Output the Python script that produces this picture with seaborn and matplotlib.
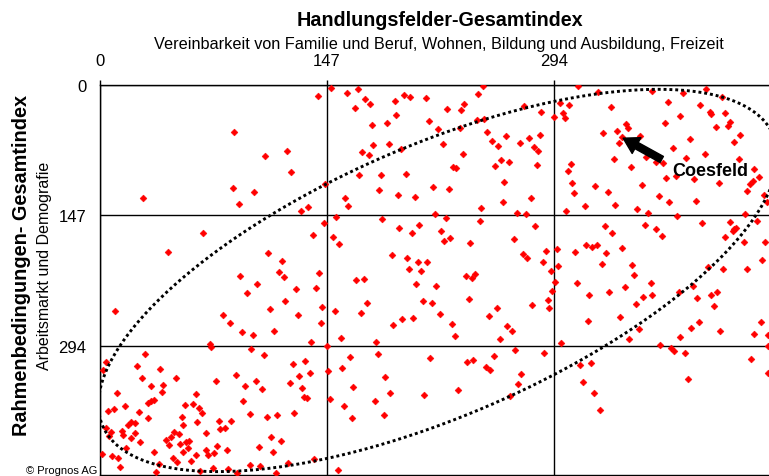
import numpy as np
import seaborn as sns
import matplotlib.pyplot as plt

# Rang im Handlungsfelder-Gesamtindex (x) und Rahmenbedingungen-Gesamtindex (y)
handlung_rang = [
    87, 28, 86, 100, 90, 67, 44, 91,
    141, 150, 160, 167, 172, 175, 165, 191, 197, 201, 211, 192, 186, 176, 213, 219, 225, 234, 236, 245,
    248, 244, 249, 233, 251, 254, 263, 258, 222, 195, 187, 177, 170, 174, 121, 107, 124, 168, 182, 198,
    235, 229, 231, 256, 260, 265, 262, 261, 216, 226, 181, 193, 204, 159, 161, 146, 135, 130, 247, 246,
    217, 224, 183, 153, 145, 194, 207, 221, 223, 227, 240, 202, 138, 151, 155, 109, 118, 116, 119, 142,
    189, 199, 206, 212, 200, 208, 237, 243, 241, 166, 171,
    102, 127, 140, 120, 110, 128, 144, 143, 113, 99, 137, 147, 152, 156, 173, 169, 179, 205, 218, 209,
    215, 220, 203, 196, 190, 228, 230, 239, 257, 252, 264, 259, 106, 125, 133, 129, 136, 101, 105, 123,
    131, 132, 134, 97, 108, 115, 126, 111, 117, 103, 112, 104, 97, 122, 139, 114, 154, 148, 149, 162,
    157, 164, 158, 163, 180, 185, 188, 178, 184, 214, 210, 232, 238, 242, 250, 253, 255,
    95, 10, 80, 84, 92, 71, 72, 98, 29, 4, 2, 24, 39, 27, 49, 88, 75, 33, 41, 94,
    11, 40, 62, 31, 33, 35, 93, 55, 60, 64, 5, 9, 16, 25, 66, 31, 53, 18, 20, 23,
    54, 63, 77, 85, 4, 78, 81, 6, 7, 14, 15, 23, 48, 51, 43, 46, 26, 20, 17, 45,
    52, 56, 58, 57, 69, 76, 82, 69, 70, 74, 62, 54, 35, 1, 8, 12, 47, 50, 59, 38,
    13, 65, 73, 83, 36, 89,
    310, 323, 298, 304, 275, 286, 300, 301, 294, 331, 358, 378, 393, 403, 368, 389, 395, 396, 405, 376,
    366, 399, 408, 407, 341, 342, 335, 326, 336, 350, 382, 415, 411, 371, 392, 380, 414, 354, 360, 365,
    333, 344, 367, 373, 385, 424, 427, 423, 421, 419, 430, 432, 401, 351, 362, 369, 386, 334, 348, 355,
    374, 418, 426, 408, 410, 411, 412, 353, 360, 364, 390, 405, 417, 431, 429, 419, 394, 404, 321, 329,
    314, 302, 307, 306, 305, 303, 279, 270, 276, 283, 281, 284, 278, 285, 272, 282, 268, 274, 277, 289,
    287, 296, 297, 292, 308, 315, 319, 322, 327, 332, 328, 338, 325, 345, 346,
    295, 293, 290, 291, 280, 267, 269, 288, 273, 271, 266, 299, 309, 317, 316, 330, 340, 347, 352, 357,
    358, 337, 349, 343, 311, 318, 313, 320, 324, 363, 370, 372, 379, 381, 376, 383, 388, 375, 384, 387,
    396, 400, 398, 402, 428, 424, 433, 433, 422, 433,
]
rahmen_rang = [
    53, 127, 116, 121, 134, 167, 188, 215,
    12, 3, 9, 5, 16, 21, 26, 18, 11, 14, 15, 34, 43, 45, 41, 50, 27, 28, 21, 10,
    1, 39, 38, 49, 53, 63, 58, 69, 67, 72, 67, 68, 76, 79, 74, 80, 98, 102, 102, 100,
    78, 92, 94, 91, 85, 87, 109, 132, 115, 117, 118, 124, 126, 127, 137, 112, 138, 142, 139, 153,
    146, 150, 151, 149, 156, 161, 158, 165, 176, 173, 178, 167, 169, 171, 179, 189, 199, 211, 217, 212,
    192, 195, 200, 200, 208, 210, 216, 213, 218, 220, 219,
    224, 230, 229, 244, 253, 260, 250, 269, 278, 282, 290, 294, 255, 285, 246, 257, 290, 225, 227, 244,
    246, 258, 263, 264, 271, 270, 283, 241, 252, 261, 272, 287, 305, 315, 311, 328, 325, 334, 343, 336,
    342, 352, 353, 371, 374, 372, 370, 397, 402, 408, 414, 430, 429, 426, 422, 438, 434, 323, 354, 307,
    319, 341, 362, 376, 304, 329, 348, 357, 372, 308, 350, 344, 313, 310, 318, 322, 306,
    235, 255, 259, 268, 279, 292, 296, 298, 303, 312, 321, 317, 320, 330, 330, 327, 334, 340, 338, 339,
    347, 346, 349, 359, 357, 355, 356, 361, 360, 364, 368, 365, 362, 369, 370, 376, 374, 383, 380, 381,
    384, 380, 379, 379, 387, 388, 387, 396, 391, 390, 395, 392, 391, 394, 401, 397, 403, 398, 409, 406,
    405, 403, 402, 410, 393, 407, 412, 412, 417, 415, 417, 414, 414, 416, 419, 421, 421, 425, 424, 427,
    431, 435, 432, 433, 437, 438,
    1, 8, 20, 22, 24, 30, 32, 37, 36, 25, 7, 9, 4, 13, 19, 23, 30, 33, 32, 35,
    43, 47, 42, 46, 44, 48, 52, 54, 65, 57, 61, 56, 64, 71, 78, 82, 84, 81, 87, 88,
    83, 92, 105, 103, 106, 95, 104, 108, 112, 120, 124, 132, 111, 113, 125, 132, 131, 135, 140, 144,
    148, 146, 153, 154, 165, 163, 161, 158, 163, 170, 156, 172, 177, 177, 197, 207, 205, 207, 114, 121,
    136, 142, 122, 110, 89, 97, 128, 144, 146, 90, 70, 75, 60, 56, 65, 159, 174, 191, 195, 187,
    200, 185, 204, 210, 188, 181, 183, 180, 159, 167, 190, 184, 202, 203, 214,
    222, 232, 242, 251, 248, 278, 299, 302, 326, 337, 351, 291, 223, 237, 266, 234, 228, 247, 239, 223,
    237, 262, 275, 286, 316, 314, 335, 347, 367, 293, 297, 300, 302, 332, 284, 274, 267, 233, 227, 240,
    237, 234, 249, 277, 267, 281, 282, 294, 309, 325,
]
coesfeld = (338, 59)
ticks = [0, 147, 294]

x = np.array(handlung_rang + [coesfeld[0]])
y = np.array(rahmen_rang + [coesfeld[1]])

sns.set_style("white")
plt.rcParams["font.family"] = ["Liberation Sans", "DejaVu Sans"]
plt.rcParams["text.color"] = "black"

fig = plt.figure(figsize=(7.69, 4.77), dpi=100)
ax = fig.add_axes([0.130, 0.0031, 0.870, 0.8166])

sns.scatterplot(x=x, y=y, ax=ax, marker="D", color="red", s=12,
                edgecolor="red", linewidth=0.4, zorder=3)

# gepunktete Ellipse um die Punktwolke
t = np.linspace(0, 2 * np.pi, 500)
ax.plot(219 + 220 * np.cos(t), 220.5 - 140 * np.cos(t) + 164 * np.sin(t),
        color="black", linewidth=2.1, linestyle=(0, (1, 1)), zorder=4)

ax.annotate("", xy=(coesfeld[0] + 1, coesfeld[1] + 1), xytext=(364, 84),
            arrowprops=dict(facecolor="black", edgecolor="black", width=5,
                            headwidth=13, headlength=11, shrink=0), zorder=5)
ax.text(371, 96, "Coesfeld", fontsize=13, fontweight="bold", color="black",
        ha="left", va="center", zorder=5)

ax.set_xlim(0, 433.5)
ax.set_ylim(439.4, 0)
ax.set_xticks(ticks)
ax.set_yticks(ticks)
ax.set_xticklabels([str(v) for v in ticks])
ax.set_yticklabels([str(v) for v in ticks])
ax.xaxis.tick_top()
ax.tick_params(axis="x", direction="out", length=3.6, width=1, pad=9, labelsize=12,
               colors="black", labelcolor="black")
ax.tick_params(axis="y", direction="out", length=3.6, width=1, pad=6.3, labelsize=12,
               colors="black", labelcolor="black")
ax.grid(True, color="black", linewidth=1.0)
ax.set_axisbelow(True)
for side in ["top", "left", "bottom"]:
    ax.spines[side].set_color("black")
    ax.spines[side].set_linewidth(1.0)
ax.spines["right"].set_visible(False)
ax.set_xlabel("")
ax.set_ylabel("")

fig.text(440 / 769, 1 - 20 / 477, "Handlungsfelder-Gesamtindex", fontsize=14.2,
         fontweight="bold", ha="center", va="center", color="black")
fig.text(439 / 769, 1 - 44 / 477,
         "Vereinbarkeit von Familie und Beruf, Wohnen, Bildung und Ausbildung, Freizeit",
         fontsize=11.7, ha="center", va="center", color="black")
fig.text(22 / 769, 1 - 265 / 477, "Rahmenbedingungen- Gesamtindex", fontsize=14.3,
         fontweight="bold", rotation=90, ha="center", va="center", color="black")
fig.text(45 / 769, 1 - 266 / 477, "Arbeitsmarkt und Demografie", fontsize=11.5,
         rotation=90, ha="center", va="center", color="black")
fig.text(97 / 769, 3 / 477, "© Prognos AG", fontsize=8, ha="right", va="baseline",
         color="black")

fig.savefig("out.png", dpi=100)
